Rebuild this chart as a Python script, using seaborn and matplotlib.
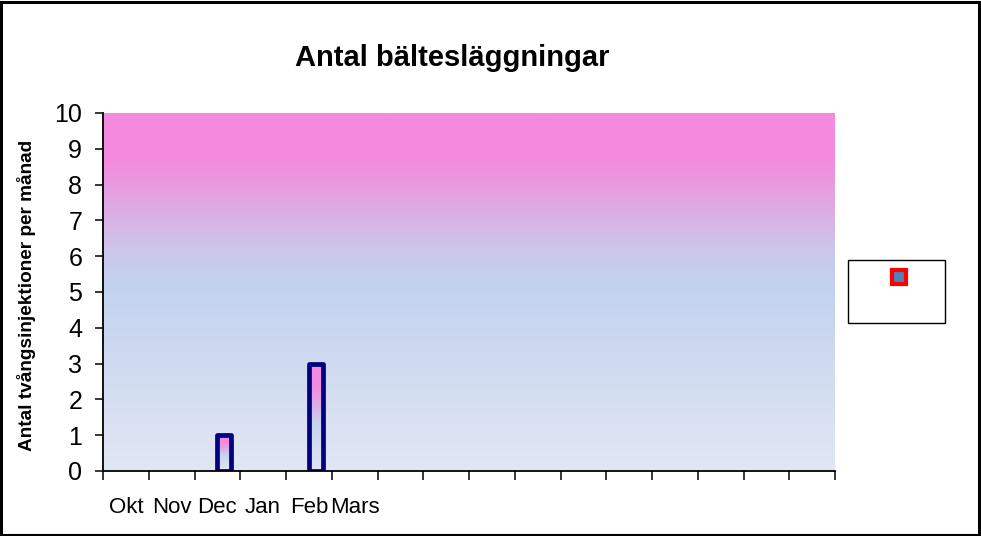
import numpy as np
import pandas as pd
import matplotlib
matplotlib.use("Agg")
import matplotlib.pyplot as plt
import seaborn as sns
from matplotlib.colors import LinearSegmentedColormap
from matplotlib.patches import Rectangle
from matplotlib.lines import Line2D

# ---- data ----
title = "Antal bältesläggningar"
ylabel = "Antal tvångsinjektioner per månad"
month_labels = ["Okt", "Nov", "Dec", "Jan", "Feb", "Mars",
                "", "", "", "", "", "", "", "", "", ""]
series_names = ["Serie1", "Serie2"]
serie2_values = [0, 0, 1, 0, 3, 0]
y_ticks = [0, 1, 2, 3, 4, 5, 6, 7, 8, 9, 10]

slots = [f"s{i}" for i in range(len(month_labels))]
df = pd.DataFrame({
    "slot": slots[:len(serie2_values)],
    "value": serie2_values,
    "serie": series_names[1],
})
df = df[df["value"] > 0]

# ---- fonts ----
sns.set_theme(style="white")
plt.rcParams["font.family"] = ["Liberation Sans", "DejaVu Sans"]
plt.rcParams["text.color"] = "black"
plt.rcParams["xtick.color"] = "black"
plt.rcParams["ytick.color"] = "black"
plt.rcParams["xtick.labelcolor"] = "black"
plt.rcParams["ytick.labelcolor"] = "black"

fig = plt.figure(figsize=(9.81, 5.36), dpi=100)
ax = fig.add_axes([103 / 981, 1 - 471 / 536, (835 - 103) / 981, (471 - 113) / 536])

bg_cmap = LinearSegmentedColormap.from_list(
    "bg", [(0.0, "#E1E6F4"), (0.52, "#C2D2EE"), (0.62, "#CCC6EA"),
           (0.87, "#F38BDD"), (1.0, "#F48ADE")])
bar_cmap = LinearSegmentedColormap.from_list(
    "bar", [(0.0, "#E1E6F4"), (0.45, "#C5D3EE"), (0.6, "#DAB0E4"),
            (0.78, "#F18CDD"), (1.0, "#F48ADE")])

sns.barplot(data=df, x="slot", y="value", hue="serie", order=slots,
            hue_order=series_names, palette=["#4F81BD", "#C2D2EE"],
            width=0.60, dodge=True, legend=False, ax=ax, zorder=3)

# background gradient
grad = np.linspace(0, 1, 256).reshape(-1, 1)
ax.imshow(grad, extent=[-0.5, len(slots) - 0.5, 0, 10], origin="lower",
          aspect="auto", cmap=bg_cmap, zorder=0)

# gradient bars
for p in list(ax.patches):
    h = p.get_height()
    if not np.isfinite(h) or h <= 0:
        continue
    x0 = p.get_x()
    w = p.get_width()
    p.set_facecolor("none")
    p.set_edgecolor("#000080")
    p.set_linewidth(3.4)
    p.set_joinstyle("round")
    p.set_zorder(4)
    im = ax.imshow(grad, extent=[x0, x0 + w, 0, h], origin="lower",
                   aspect="auto", cmap=bar_cmap, zorder=3)
    im.set_clip_path(p)

ax.set_xlim(-0.5, len(slots) - 0.5)
ax.set_ylim(0, 10)

# axes styling
for s in ["top", "right"]:
    ax.spines[s].set_visible(False)
for s in ["left", "bottom"]:
    ax.spines[s].set_color("black")
    ax.spines[s].set_linewidth(1.3)
    ax.spines[s].set_zorder(5)

ax.set_yticks(y_ticks)
ax.set_yticklabels([str(v) for v in y_ticks], fontsize=18)
ax.tick_params(axis="y", direction="out", length=6, width=1.1, color="black", pad=9, left=True)

ax.set_xticks(range(len(slots)))
ax.set_xticklabels(month_labels, fontsize=16)
ax.set_xticks(np.arange(-0.5, len(slots), 1.0), minor=True)
ax.tick_params(axis="x", which="major", length=0, pad=19)
ax.tick_params(axis="x", which="minor", direction="out", length=6.5, width=1.1,
               color="black", bottom=True)
ax.set_xlabel("")
ax.set_ylabel("")
ax.grid(False)

fig.text(452 / 981, 1 - 58 / 536, title, ha="center", va="center",
         fontsize=21, fontweight="bold", color="black")
fig.text(27 / 981, 1 - 295 / 536, ylabel, ha="center", va="center",
         rotation=90, fontsize=13.7, fontweight="bold", color="black")

# legend box (marker only)
fig.add_artist(Rectangle((848 / 981, 1 - 323 / 536), 97 / 981, 63 / 536,
                         transform=fig.transFigure, facecolor="white",
                         edgecolor="black", linewidth=1.0))
fig.add_artist(Line2D([898.5 / 981], [1 - 276.5 / 536], transform=fig.transFigure,
                      marker="s", markersize=9.5, markerfacecolor="#4F81BD",
                      markeredgecolor="#FF0000", markeredgewidth=3.0, linestyle="none"))

# figure border
fig.add_artist(Rectangle((0.0015, 0.002), 0.9965, 0.995, transform=fig.transFigure,
                         fill=False, edgecolor="black", linewidth=2.2))

fig.savefig("out.png", dpi=100)
